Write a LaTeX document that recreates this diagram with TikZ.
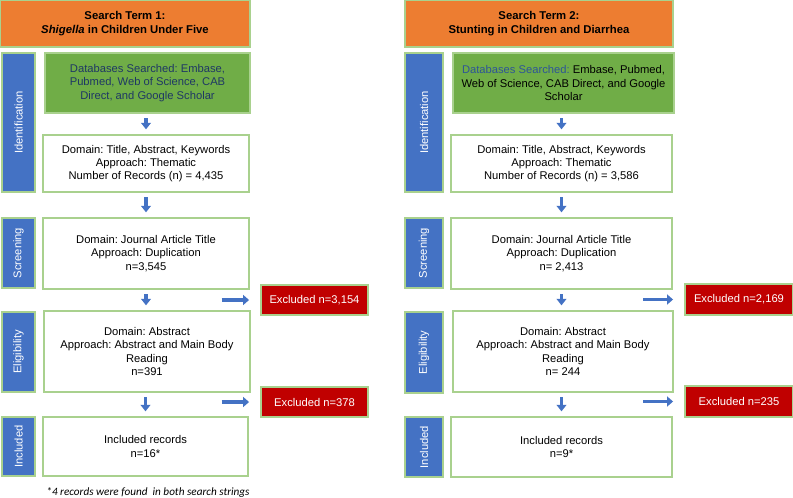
\documentclass[tikz,border=0pt]{standalone}
\usepackage{fontspec}
\setmainfont{Liberation Sans}
\newfontfamily\notefont{Carlito}
\usepackage{xcolor}
\usetikzlibrary{arrows.meta,positioning}
\frenchspacing

\definecolor{boxorange}{HTML}{ED7D31}
\definecolor{boxgreen}{HTML}{70AD47}
\definecolor{edgegreen}{HTML}{A9D18E}
\definecolor{barblue}{HTML}{4472C4}
\definecolor{exred}{HTML}{C00000}
\definecolor{arrowblue}{HTML}{4472C4}
\definecolor{navytext}{HTML}{1F3864}
\definecolor{dbblue}{HTML}{2E5597}

\begin{document}
\begin{tikzpicture}[
    x=0.75pt,
    y=-0.75pt,
    every node/.style={
        font=\fontsize{8.4}{9.9}\selectfont,
        inner sep=0pt,
        align=center
    },
    boxsize/.style 2 args={
        minimum width=#1*0.75pt,
        minimum height=#2*0.75pt
    },
    frame/.style={
        draw=edgegreen,
        line width=0.9pt
    },
    title/.style={
        frame,
        fill=boxorange,
        font=\fontsize{8.5}{10.4}\selectfont\bfseries
    },
    stage/.style={
        frame,
        fill=barblue,
        text=white,
        rotate=90
    },
    dbbox/.style={
        frame,
        fill=boxgreen
    },
    recbox/.style={
        frame,
        fill=white
    },
    excl/.style={
        frame,
        fill=exred,
        text=white
    },
    down/.style={
        draw=arrowblue,
        line width=2.3pt,
        shorten <=3.5pt,
        shorten >=3.8pt,
        -{Triangle[length=4.8pt,width=7.2pt]}
    },
    aside/.style={
        draw=arrowblue,
        line width=2.8pt,
        shorten >=8.5pt,
        -{Triangle[length=4.5pt,width=7.5pt]}
    }
]

\useasboundingbox (0,0) rectangle (793,497);

% search term 1
\node[title, boxsize={250}{47}] (term1) at (125,23.5)
    {Search Term 1:\\\textit{Shigella} in Children Under Five};

\node[stage, boxsize={139}{33}] (id1) at (18.5,122.5) {Identification};
\node[stage, boxsize={70}{33}] (scr1) at (18.5,253) {Screening};
\node[stage, boxsize={80}{33}] (el1) at (18.5,352) {Eligibility};
\node[stage, boxsize={59}{33}] (in1) at (18.5,446.5) {Included};

\node[dbbox, boxsize={205}{60}, text=navytext] (db1) at (147.5,83)
    {Databases Searched: Embase,\\Pubmed, Web of Science, CAB\\Direct, and Google Scholar};
\node[recbox, boxsize={206}{57}] (rec1) at (146,163.5)
    {Domain: Title, Abstract, Keywords\\Approach: Thematic\\Number of Records (n) = 4,435};
\node[recbox, boxsize={206}{71}] (dup1) at (146,253.5)
    {Domain: Journal Article Title\\Approach: Duplication\\n=3,545};
\node[recbox, boxsize={206}{81}] (abs1) at (147,351.5)
    {Domain: Abstract\\Approach: Abstract and Main Body\\Reading\\n=391};
\node[recbox, boxsize={205}{59}] (inc1) at (145.5,446.5)
    {Included records\\n=16*};

\node[excl, boxsize={107}{30}] (ex1) at (314.5,300) {Excluded n=3,154};
\node[excl, boxsize={107}{30}] (ex2) at (314.5,402) {Excluded n=378};

\node[font=\notefont\itshape\fontsize{8.4}{10}\selectfont] (note) at (148,492)
    {*4 records were found\ \ in both search strings};

\draw[down] (db1.south -| rec1.north) -- (rec1.north);
\draw[down] (rec1.south) -- (dup1.north);
\draw[down] (dup1.south) -- (dup1.south |- abs1.north);
\draw[down] (abs1.south -| inc1.north) -- (inc1.north);

\coordinate[left=29pt of ex1.west] (cut1);
\coordinate[left=29pt of ex2.west] (cut2);
\draw[aside] (cut1) -- (ex1.west);
\draw[aside] (cut2) -- (ex2.west);

% search term 2
\node[title, boxsize={268}{47}] (term2) at (539,23.5)
    {Search Term 2:\\Stunting in Children and Diarrhea};

\node[stage, boxsize={139}{38}] (id2) at (424,122.5) {Identification};
\node[stage, boxsize={70}{38}] (scr2) at (424,253) {Screening};
\node[stage, boxsize={81}{38}] (el2) at (424,352.5) {Eligibility};
\node[stage, boxsize={60}{38}] (in2) at (424,447) {Included};

\node[dbbox, boxsize={221}{60}] (db2) at (563.5,83)
    {{\color{dbblue}Databases Searched:} Embase, Pubmed,\\Web of Science, CAB Direct, and Google\\Scholar};
\node[recbox, boxsize={221}{57}] (rec2) at (561.5,163.5)
    {Domain: Title, Abstract, Keywords\\Approach: Thematic\\Number of Records (n) = 3,586};
\node[recbox, boxsize={221}{71}] (dup2) at (561.5,253.5)
    {Domain: Journal Article Title\\Approach: Duplication\\n= 2,413};
\node[recbox, boxsize={220}{81}] (abs2) at (563,351.5)
    {Domain: Abstract\\Approach: Abstract and Main Body\\Reading\\n= 244};
\node[recbox, boxsize={221}{60}] (inc2) at (561.5,447)
    {Included records\\n=9*};

\node[excl, boxsize={108}{31}] (ex3) at (739,299.5) {Excluded n=2,169};
\node[excl, boxsize={108}{31}] (ex4) at (739,401.5) {Excluded n=235};

\draw[down] (db2.south -| rec2.north) -- (rec2.north);
\draw[down] (rec2.south) -- (dup2.north);
\draw[down] (dup2.south) -- (dup2.south |- abs2.north);
\draw[down] (abs2.south -| inc2.north) -- (inc2.north);

\coordinate[left=31pt of ex3.west] (cut3);
\coordinate[left=31pt of ex4.west] (cut4);
\draw[aside] (cut3) -- (ex3.west);
\draw[aside] (cut4) -- (ex4.west);

\end{tikzpicture}
\end{document}
